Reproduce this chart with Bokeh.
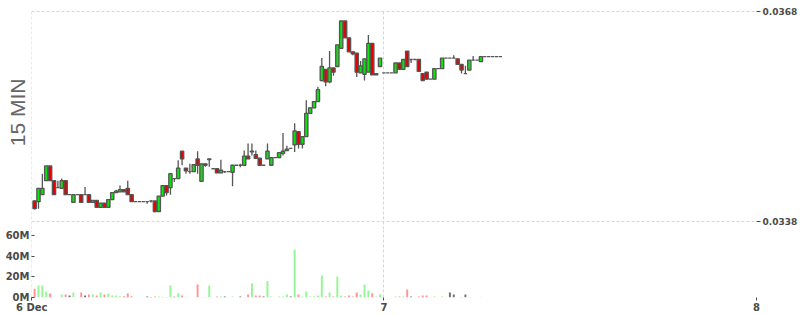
from bokeh.plotting import figure
from bokeh.layouts import column
from bokeh.models import Range1d, LinearAxis, FixedTicker, Grid, Title, PrintfTickFormatter
from bokeh.embed import file_html
from bokeh.resources import INLINE

# ---- data (15-minute candles, 6 Dec 01:30 onward) ----
opens = [
    0.03410, 0.03409, 0.03419, 0.03439, 0.03460, 0.03439, 0.03429, 0.03428, 0.03439, 0.03419,
    0.03408, 0.03419, 0.03419, 0.03419, 0.03419, 0.03408, 0.03411, 0.03401, 0.03407, 0.03401,
    0.03412, 0.03422, 0.03423, 0.03426, 0.03428, 0.03419, 0.03409, 0.03409, 0.03409, 0.03409,
    0.03410, 0.03410, 0.03395, 0.03417, 0.03432, 0.03429, 0.03442, 0.03442, 0.03481, 0.03457,
    0.03452, 0.03452, 0.03470, 0.03438, 0.03463, 0.03469, 0.03456, 0.03456, 0.03450, 0.03452,
    0.03452, 0.03451, 0.03461, 0.03461, 0.03461, 0.03474, 0.03480, 0.03476, 0.03471, 0.03461,
    0.03470, 0.03461, 0.03472, 0.03472, 0.03478, 0.03482, 0.03485, 0.03490, 0.03509, 0.03491,
    0.03502, 0.03535, 0.03543, 0.03552, 0.03582, 0.03598, 0.03580, 0.03600, 0.03602, 0.03628,
    0.03667, 0.03643, 0.03623, 0.03621, 0.03593, 0.03591, 0.03594, 0.03635, 0.03590, 0.03602,
    0.03593, 0.03593, 0.03593, 0.03593, 0.03607, 0.03598, 0.03624, 0.03612, 0.03612, 0.03612,
    0.03592, 0.03594, 0.03584, 0.03584, 0.03599, 0.03599, 0.03614, 0.03614, 0.03614, 0.03613,
    0.03605, 0.03592, 0.03597, 0.03611, 0.03611, 0.03609, 0.03616, 0.03616, 0.03616, 0.03616,
    0.03616,
]
highs = [
    0.03411, 0.03428, 0.03449, 0.03460, 0.03460, 0.03439, 0.03439, 0.03442, 0.03439, 0.03419,
    0.03419, 0.03419, 0.03419, 0.03430, 0.03419, 0.03411, 0.03411, 0.03407, 0.03407, 0.03412,
    0.03422, 0.03426, 0.03432, 0.03426, 0.03439, 0.03419, 0.03409, 0.03409, 0.03409, 0.03409,
    0.03411, 0.03410, 0.03417, 0.03432, 0.03432, 0.03449, 0.03442, 0.03468, 0.03481, 0.03457,
    0.03463, 0.03462, 0.03481, 0.03463, 0.03463, 0.03470, 0.03456, 0.03456, 0.03469, 0.03452,
    0.03452, 0.03461, 0.03461, 0.03463, 0.03482, 0.03492, 0.03492, 0.03482, 0.03471, 0.03461,
    0.03492, 0.03472, 0.03472, 0.03479, 0.03507, 0.03489, 0.03485, 0.03521, 0.03509, 0.03502,
    0.03554, 0.03543, 0.03552, 0.03573, 0.03614, 0.03598, 0.03624, 0.03600, 0.03633, 0.03667,
    0.03667, 0.03643, 0.03623, 0.03621, 0.03610, 0.03613, 0.03647, 0.03635, 0.03592, 0.03614,
    0.03593, 0.03593, 0.03593, 0.03607, 0.03607, 0.03612, 0.03624, 0.03612, 0.03612, 0.03612,
    0.03592, 0.03594, 0.03584, 0.03599, 0.03599, 0.03614, 0.03614, 0.03614, 0.03618, 0.03613,
    0.03605, 0.03603, 0.03611, 0.03617, 0.03611, 0.03616, 0.03616, 0.03616, 0.03616, 0.03616,
    0.03616,
]
lows = [
    0.03398, 0.03399, 0.03419, 0.03439, 0.03439, 0.03419, 0.03429, 0.03428, 0.03419, 0.03419,
    0.03408, 0.03419, 0.03408, 0.03419, 0.03408, 0.03408, 0.03401, 0.03401, 0.03401, 0.03401,
    0.03412, 0.03422, 0.03423, 0.03423, 0.03419, 0.03409, 0.03409, 0.03409, 0.03409, 0.03406,
    0.03408, 0.03394, 0.03395, 0.03417, 0.03418, 0.03419, 0.03437, 0.03442, 0.03461, 0.03449,
    0.03449, 0.03452, 0.03449, 0.03438, 0.03459, 0.03459, 0.03456, 0.03450, 0.03450, 0.03450,
    0.03452, 0.03431, 0.03461, 0.03458, 0.03461, 0.03470, 0.03475, 0.03471, 0.03461, 0.03461,
    0.03470, 0.03461, 0.03472, 0.03472, 0.03475, 0.03482, 0.03485, 0.03480, 0.03485, 0.03485,
    0.03502, 0.03535, 0.03543, 0.03552, 0.03581, 0.03574, 0.03578, 0.03589, 0.03602, 0.03628,
    0.03643, 0.03623, 0.03618, 0.03587, 0.03593, 0.03582, 0.03594, 0.03590, 0.03590, 0.03602,
    0.03593, 0.03593, 0.03593, 0.03593, 0.03598, 0.03598, 0.03602, 0.03607, 0.03612, 0.03595,
    0.03582, 0.03584, 0.03584, 0.03584, 0.03599, 0.03599, 0.03614, 0.03614, 0.03614, 0.03605,
    0.03592, 0.03592, 0.03597, 0.03611, 0.03611, 0.03609, 0.03616, 0.03616, 0.03616, 0.03616,
    0.03616,
]
closes = [
    0.03399, 0.03428, 0.03428, 0.03460, 0.03439, 0.03419, 0.03429, 0.03439, 0.03419, 0.03419,
    0.03419, 0.03419, 0.03408, 0.03419, 0.03408, 0.03411, 0.03401, 0.03407, 0.03401, 0.03412,
    0.03422, 0.03424, 0.03426, 0.03423, 0.03419, 0.03409, 0.03409, 0.03409, 0.03409, 0.03409,
    0.03410, 0.03395, 0.03417, 0.03432, 0.03422, 0.03449, 0.03442, 0.03457, 0.03470, 0.03453,
    0.03452, 0.03462, 0.03461, 0.03463, 0.03461, 0.03470, 0.03456, 0.03450, 0.03454, 0.03452,
    0.03452, 0.03461, 0.03461, 0.03461, 0.03474, 0.03470, 0.03481, 0.03471, 0.03461, 0.03461,
    0.03481, 0.03472, 0.03472, 0.03479, 0.03481, 0.03484, 0.03485, 0.03510, 0.03491, 0.03502,
    0.03535, 0.03543, 0.03552, 0.03569, 0.03602, 0.03580, 0.03600, 0.03594, 0.03633, 0.03667,
    0.03643, 0.03623, 0.03620, 0.03594, 0.03603, 0.03613, 0.03635, 0.03590, 0.03592, 0.03614,
    0.03593, 0.03593, 0.03593, 0.03607, 0.03598, 0.03612, 0.03602, 0.03612, 0.03612, 0.03595,
    0.03582, 0.03584, 0.03584, 0.03599, 0.03599, 0.03614, 0.03614, 0.03614, 0.03614, 0.03605,
    0.03597, 0.03592, 0.03611, 0.03611, 0.03611, 0.03616, 0.03616, 0.03616, 0.03616, 0.03616,
    0.03616,
]
volumes_m = [
    8.5, 11.7, 11.7, 5.9, 3.9, 0, 0, 2.9, 2.9, 2.0,
    4.9, 0, 4.9, 2.0, 2.9, 2.9, 2.0, 4.9, 2.9, 3.9,
    2.0, 2.0, 1.3, 1.3, 3.9, 1.3, 0, 0, 0, 1.0,
    0.5, 1.0, 1.0, 0.8, 0.5, 12.0, 0.8, 4.2, 2.0, 0.5,
    0, 0.5, 12.7, 0.5, 0.5, 11.7, 0, 1.0, 1.0, 1.0,
    0, 1.0, 0, 1.0, 0.5, 2.9, 14.0, 2.0, 2.0, 1.0,
    16.0, 1.0, 0, 1.0, 1.0, 2.9, 1.0, 46.8, 2.9, 1.0,
    5.8, 1.0, 1.0, 2.0, 21.5, 1.0, 4.9, 1.0, 20.5, 2.0,
    1.0, 2.0, 1.0, 4.9, 2.9, 12.7, 6.8, 4.2, 1.0, 2.9,
    0, 0, 0, 1.0, 1.0, 1.0, 7.8, 1.0, 0, 1.0,
    2.0, 2.0, 0, 1.0, 0, 1.0, 0, 4.9, 2.9, 0,
    0.5, 2.9, 0.5, 0, 0, 0.5, 0, 0, 0, 0,
    0,
]
price_ticks = [0.0338, 0.0368]
volume_ticks = [0, 20, 40, 60]
volume_tick_labels = ["0M", "20M", "40M", "60M"]
day_ticks = [-0.75, 90, 186]          # candle index of day boundaries
day_tick_labels = ["6 Dec", "7", "8"]
panel_title = "15 MIN"

# ---- derived ----
n = len(opens)
idx = list(range(n))
tops = [max(o, c) for o, c in zip(opens, closes)]
bottoms = [min(o, c) for o, c in zip(opens, closes)]
UP, DOWN, FLAT = "#11e011", "#e80000", "#777777"
VUP, VDOWN, VFLAT = "#96f596", "#ff9494", "#707070"
body_colors = [UP if c > o else (DOWN if c < o else FLAT) for o, c in zip(opens, closes)]
vol_colors = [VUP if c > o else (VDOWN if c < o else VFLAT) for o, c in zip(opens, closes)]

GRID = "#d6d6d6"
TXT = "#4a4a4a"
FONT = "DejaVu Sans"
LEFT, RIGHT = 31, 43

def style_axis(ax, tick_in, tick_out, standoff, size):
    ax.axis_line_color = None
    ax.major_tick_line_color = TXT
    ax.major_tick_in = tick_in
    ax.major_tick_out = tick_out
    ax.minor_tick_line_color = None
    ax.major_label_standoff = standoff
    ax.major_label_text_font = FONT
    ax.major_label_text_font_style = "bold"
    ax.major_label_text_font_size = size
    ax.major_label_text_color = TXT

x_range = Range1d(-0.8, 186)

# ---------------- price panel ----------------
p = figure(width=800, height=229, output_backend="svg", toolbar_location=None,
           x_range=x_range, y_range=Range1d(0.0336927, 0.03682),
           x_axis_location=None, y_axis_location="right",
           min_border_left=LEFT, min_border_right=RIGHT, min_border_top=10, min_border_bottom=0)
p.outline_line_color = None
ya = p.yaxis[0]
ya.ticker = FixedTicker(ticks=price_ticks)
ya.formatter = PrintfTickFormatter(format="%.4f")
style_axis(ya, 0, 4, 2, "9px")
for g in p.ygrid:
    g.grid_line_color = GRID
    g.grid_line_dash = "3 2"
for g in p.xgrid:
    g.visible = False
p.add_layout(Grid(dimension=0, ticker=FixedTicker(ticks=day_ticks),
                  grid_line_color=GRID, grid_line_dash="3 2"))

p.segment(x0=idx, y0=highs, x1=idx, y1=lows, line_color="#555555", line_width=1.3)
p.vbar(x=idx, width=0.85, top=tops, bottom=bottoms, fill_color=body_colors,
       line_color="#555555", line_width=1.3)

p.add_layout(Title(text=panel_title, align="right", offset=68, standoff=6,
                   text_font="Liberation Sans", text_font_size="21px",
                   text_font_style="normal", text_color="#666666"), "left")

# ---------------- volume panel ----------------
v = figure(width=800, height=86, output_backend="svg", toolbar_location=None,
           x_range=x_range, y_range=Range1d(0, 66.34),
           y_axis_location=None,
           min_border_left=LEFT, min_border_right=RIGHT, min_border_top=0, min_border_bottom=18)
v.outline_line_color = None
va = LinearAxis(ticker=FixedTicker(ticks=volume_ticks),
                major_label_overrides={t: l for t, l in zip(volume_ticks, volume_tick_labels)})
style_axis(va, 3, 0, 2, "10px")
v.add_layout(va, "left")

xa = v.xaxis[0]
xa.ticker = FixedTicker(ticks=day_ticks)
xa.major_label_overrides = {t: l for t, l in zip(day_ticks, day_tick_labels)}
style_axis(xa, 0, 3, 1, "10px")
for g in v.xgrid:
    g.ticker = FixedTicker(ticks=day_ticks)
    g.grid_line_color = GRID
    g.grid_line_dash = "3 2"
for g in v.ygrid:
    g.visible = False
v.add_layout(Grid(dimension=1, ticker=FixedTicker(ticks=[0]),
                  grid_line_color=GRID, grid_line_dash="3 2"))

v.vbar(x=idx, width=0.5, top=volumes_m, bottom=0, fill_color=vol_colors, line_color=None)

layout = column(p, v, spacing=0)
open("out.html", "w").write(file_html(layout, INLINE))
